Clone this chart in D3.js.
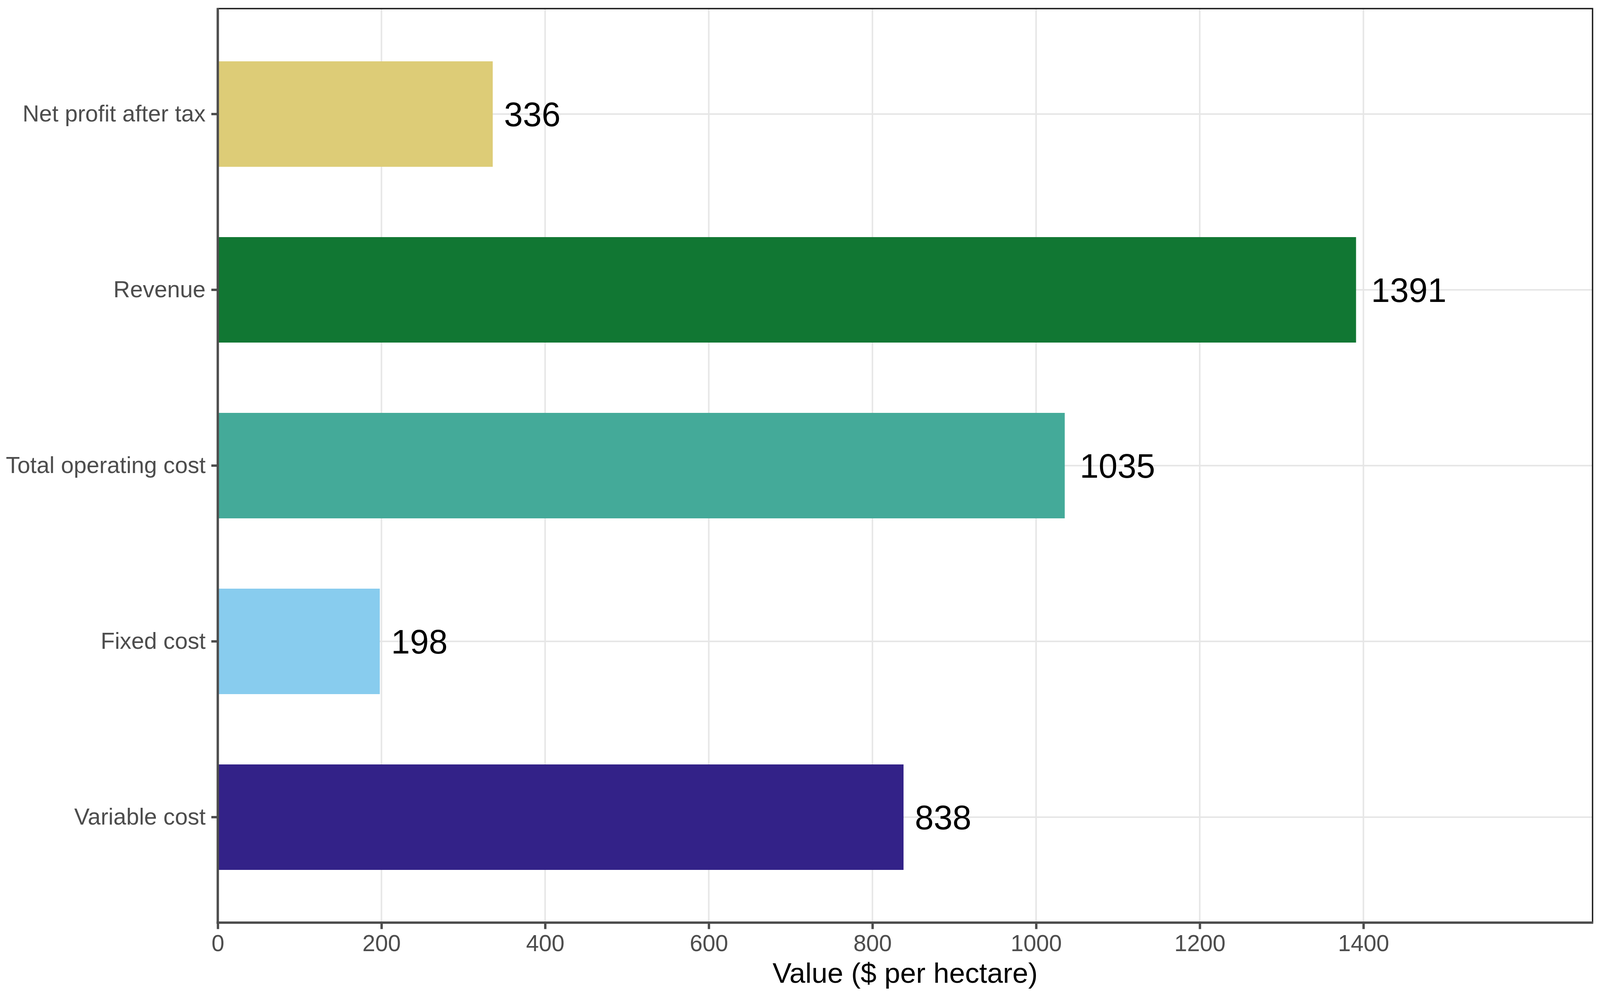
<!DOCTYPE html>
<html>
  <head>
    <meta charset="utf-8">
    <script src="https://d3js.org/d3.v7.min.js"></script>
    <style>
      html, body { margin: 0; padding: 0; background: #fff; overflow: hidden; }
      svg { display: block; width: 100vw; height: 100vh; font-family: "Liberation Sans", Arial, sans-serif; }
    </style>
  </head>
<body>
<script>
"use strict";

// categories top to bottom, with their values and fill colours
var categories = ["Net profit after tax", "Revenue", "Total operating cost", "Fixed cost", "Variable cost"];
var values = [336, 1391, 1035, 198, 838];
var colors = ["#DDCC77", "#117733", "#44AA99", "#88CCEE", "#332288"];
var xTicks = [0, 200, 400, 600, 800, 1000, 1200, 1400];
var xTitle = "Value ($ per hectare)";

// drawing is laid out for 4724 wide; height follows the window's shape
var width = 4724;
var vw = window.innerWidth || 4724, vh = window.innerHeight || 2578;
var height = width * vh / vw;
var sy = height / 2578;

var pLeft = 643, pRight = 4702, pTop = 22 * sy, pBottom = 2362 * sy;

var data = categories.map(function(c, i) {
    return { name: c, value: values[i], color: colors[i] };
});

var svg = d3.select("body").append("svg")
    .attr("viewBox", "0 0 " + width + " " + height)
    .attr("preserveAspectRatio", "xMidYMid meet");

var x = d3.scaleLinear().domain([0, 1680]).range([pLeft, pRight]);

// discrete axis with 0.6 units of padding on each end, bars 0.6 wide
var y = d3.scaleBand()
    .domain(categories)
    .range([pTop, pBottom])
    .paddingInner(0.4)
    .paddingOuter(0.3);

// grid
svg.append("g").selectAll("line")
    .data(xTicks)
    .enter().append("line")
    .attr("x1", function(d) { return x(d); })
    .attr("x2", function(d) { return x(d); })
    .attr("y1", pTop).attr("y2", pBottom)
    .style("stroke", "#e6e6e6")
    .style("stroke-width", 4.5);

svg.append("g").selectAll("line")
    .data(categories)
    .enter().append("line")
    .attr("x1", pLeft).attr("x2", pRight)
    .attr("y1", function(d) { return y(d) + y.bandwidth() / 2; })
    .attr("y2", function(d) { return y(d) + y.bandwidth() / 2; })
    .style("stroke", "#e6e6e6")
    .style("stroke-width", 4.5);

// bars
svg.append("g").selectAll("rect")
    .data(data)
    .enter().append("rect")
    .attr("x", x(0))
    .attr("y", function(d) { return y(d.name); })
    .attr("width", function(d) { return x(d.value) - x(0); })
    .attr("height", y.bandwidth())
    .style("fill", function(d) { return d.color; });

// value labels, nudged right by a fifth of their own width
svg.append("g").selectAll("text")
    .data(data)
    .enter().append("text")
    .attr("y", function(d) { return y(d.name) + y.bandwidth() / 2 + 36; })
    .style("font-size", "100px")
    .style("fill", "#000")
    .text(function(d) { return d.value; })
    .each(function(d) {
        var w = this.getComputedTextLength();
        d3.select(this).attr("x", x(d.value) + 0.2 * w);
    });

// panel border (top and right)
svg.append("path")
    .attr("d", "M" + pLeft + "," + pTop + "H" + pRight + "V" + pBottom)
    .style("fill", "none")
    .style("stroke", "#1a1a1a")
    .style("stroke-width", 4);

// x axis
var xAxis = svg.append("g")
    .attr("transform", "translate(0," + pBottom + ")")
    .call(d3.axisBottom(x).tickValues(xTicks).tickSize(19).tickPadding(17).tickFormat(d3.format("d")));
xAxis.select(".domain").remove();
xAxis.selectAll(".tick line").style("stroke", "#4d4d4d").style("stroke-width", 7);
xAxis.selectAll(".tick text")
    .style("font-size", "68px")
    .style("fill", "#4d4d4d")
    .style("font-family", "Liberation Sans, Arial, sans-serif");

// y axis
var yAxis = svg.append("g")
    .attr("transform", "translate(" + pLeft + ",0)")
    .call(d3.axisLeft(y).tickSize(19).tickPadding(17));
yAxis.select(".domain").remove();
yAxis.selectAll(".tick line").style("stroke", "#4d4d4d").style("stroke-width", 7);
yAxis.selectAll(".tick text")
    .style("font-size", "68px")
    .style("fill", "#4d4d4d")
    .style("font-family", "Liberation Sans, Arial, sans-serif");

// axis lines
svg.append("line")
    .attr("x1", pLeft).attr("x2", pLeft)
    .attr("y1", pTop - 2).attr("y2", pBottom + 3.5)
    .style("stroke", "#4d4d4d").style("stroke-width", 7);
svg.append("line")
    .attr("x1", pLeft - 3.5).attr("x2", pRight + 2)
    .attr("y1", pBottom).attr("y2", pBottom)
    .style("stroke", "#4d4d4d").style("stroke-width", 7);

// axis title
svg.append("text")
    .attr("x", (pLeft + pRight) / 2)
    .attr("y", pBottom + 178)
    .style("text-anchor", "middle")
    .style("font-size", "84px")
    .style("fill", "#000")
    .text(xTitle);
</script>
</body>
</html>
